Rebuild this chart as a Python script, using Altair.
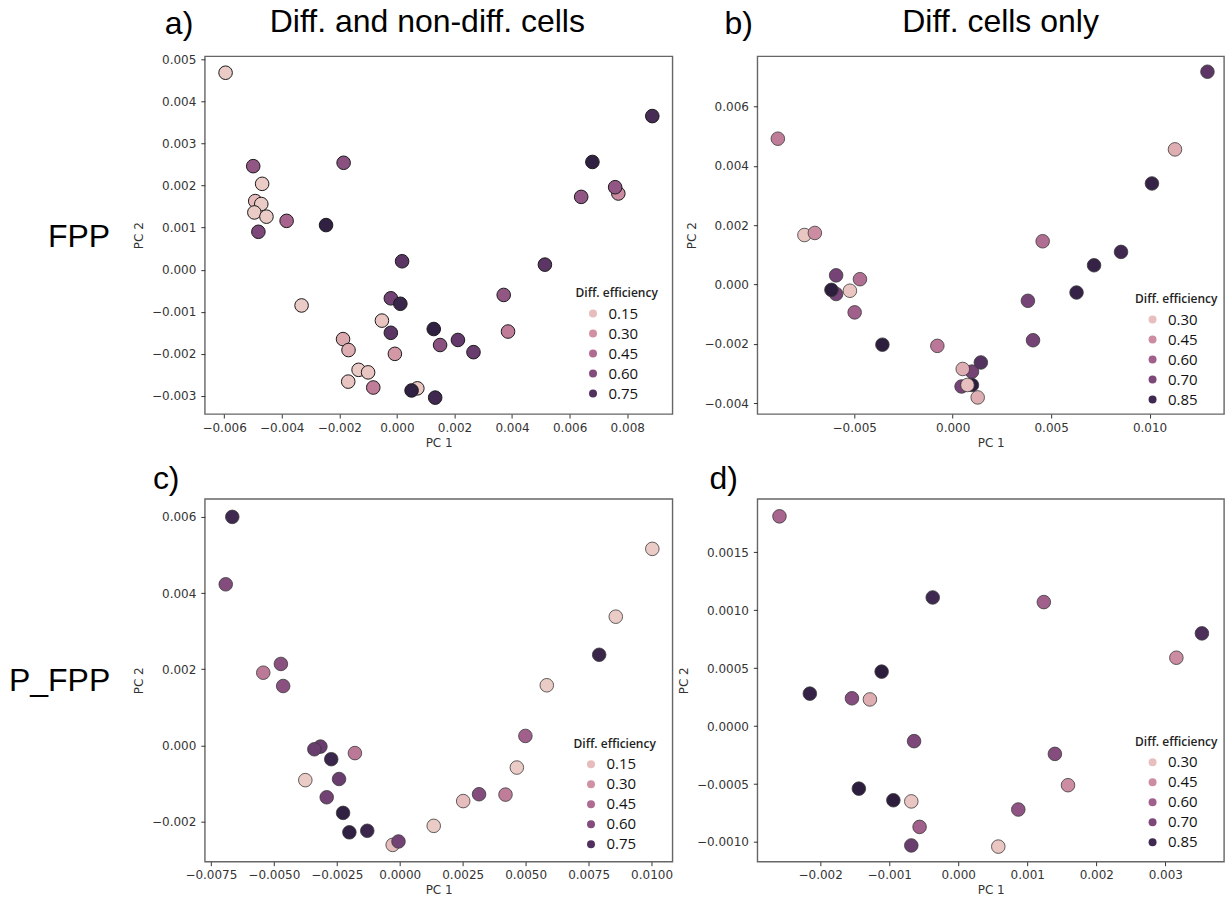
import altair as alt
import pandas as pd
import numpy as np

# ---------------- data ----------------
# panel a) FPP, diff. and non-diff. cells
a_x = [-0.00595, -0.00499, -0.00468, -0.00492, -0.00471, -0.00495, -0.00453, -0.00481, -0.00383, -0.00246,
       -0.00185, 0.00018, -0.00331, -0.00021, 0.00012, -0.00052, -0.00021, -0.00187, -0.00168, -0.00007,
       -0.00133, -0.00100, -0.00169, -0.00082, 0.00071, 0.00051, 0.00133, 0.00128, 0.00150, 0.00212,
       0.00266, 0.00371, 0.00386, 0.00514, 0.00640, 0.00679, 0.00769, 0.00758, 0.00887]
a_y = [0.00468, 0.00246, 0.00204, 0.00163, 0.00156, 0.00136, 0.00126, 0.00090, 0.00116, 0.00106,
       0.00254, 0.00020, -0.00085, -0.00068, -0.00081, -0.00121, -0.00150, -0.00165, -0.00191, -0.00200,
       -0.00238, -0.00244, -0.00266, -0.00280, -0.00282, -0.00287, -0.00304, -0.00141, -0.00179, -0.00167,
       -0.00196, -0.00060, -0.00147, 0.00012, 0.00173, 0.00256, 0.00181, 0.00196, 0.00365]
a_e = [0.10, 0.55, 0.10, 0.15, 0.10, 0.10, 0.10, 0.62, 0.48, 0.85,
       0.58, 0.72, 0.10, 0.65, 0.82, 0.12, 0.72, 0.22, 0.20, 0.28,
       0.10, 0.12, 0.12, 0.38, 0.12, 0.85, 0.80, 0.85, 0.58, 0.70,
       0.68, 0.55, 0.38, 0.72, 0.55, 0.85, 0.33, 0.55, 0.78]

# panel b) FPP, diff. cells only
b_x = [-0.00888, -0.00753, -0.00700, -0.00592, -0.00471, -0.00592, -0.00616, -0.00522, -0.00498, -0.00357,
       -0.00078, 0.00098, 0.00051, 0.00143, 0.00045, 0.00098, 0.00075, 0.00127, 0.00382, 0.00408,
       0.00457, 0.00629, 0.00718, 0.00855, 0.01012, 0.01129, 0.01294]
b_y = [0.00492, 0.00167, 0.00174, 0.00031, 0.00018, -0.00032, -0.00018, -0.00021, -0.00094, -0.00203,
       -0.00207, -0.00294, -0.00285, -0.00263, -0.00344, -0.00339, -0.00339, -0.00381, -0.00055, -0.00188,
       0.00146, -0.00027, 0.00065, 0.00110, 0.00341, 0.00456, 0.00718]
b_e = [0.50, 0.28, 0.45, 0.72, 0.55, 0.72, 0.90, 0.28, 0.60, 0.90,
       0.52, 0.72, 0.35, 0.80, 0.72, 0.90, 0.30, 0.35, 0.72, 0.72,
       0.55, 0.88, 0.88, 0.85, 0.88, 0.35, 0.78]

# panel c) P_FPP, diff. and non-diff. cells
c_x = [-0.00665, -0.00691, -0.00542, -0.00472, -0.00463, -0.00315, -0.00339, -0.00272, -0.00178, -0.00375,
       -0.00241, -0.00290, -0.00225, -0.00200, -0.00129, -0.00028, -0.00005, 0.00135, 0.00252, 0.00315,
       0.00420, 0.00465, 0.00499, 0.00584, 0.00792, 0.00858, 0.01003]
c_y = [0.00600, 0.00423, 0.00191, 0.00214, 0.00156, -0.00003, -0.00010, -0.00036, -0.00020, -0.00091,
       -0.00088, -0.00136, -0.00177, -0.00228, -0.00224, -0.00261, -0.00252, -0.00211, -0.00146, -0.00128,
       -0.00129, -0.00058, 0.00025, 0.00158, 0.00238, 0.00338, 0.00516]
c_e = [0.80, 0.60, 0.40, 0.58, 0.58, 0.68, 0.68, 0.82, 0.40, 0.10,
       0.68, 0.65, 0.85, 0.85, 0.82, 0.15, 0.65, 0.10, 0.15, 0.60,
       0.38, 0.10, 0.50, 0.10, 0.82, 0.10, 0.10]

# panel d) P_FPP, diff. cells only
d_x = [-0.00259, -0.00037, 0.00124, 0.00353, 0.00316, -0.00111, -0.00215, -0.00154, -0.00128, -0.00064,
       0.00140, 0.00159, -0.00144, -0.00094, -0.00068, 0.00087, -0.00056, -0.00068, 0.00058]
d_y = [0.00181, 0.00111, 0.00107, 0.00080, 0.00059, 0.00047, 0.00028, 0.00024, 0.00023, -0.00013,
       -0.00024, -0.00051, -0.00054, -0.00064, -0.00065, -0.00072, -0.00087, -0.00103, -0.00104]
d_e = [0.58, 0.85, 0.60, 0.82, 0.45, 0.90, 0.88, 0.68, 0.35, 0.70,
       0.68, 0.45, 0.90, 0.90, 0.28, 0.65, 0.60, 0.75, 0.28]

legend_a = [0.15, 0.30, 0.45, 0.60, 0.75]
legend_b = [0.30, 0.45, 0.60, 0.70, 0.85]

col_titles = ["Diff. and non-diff. cells", "Diff. cells only"]
row_titles = ["FPP", "P_FPP"]
letters = ["a)", "b)", "c)", "d)"]


# seaborn default cubehelix colormap (light=.85 -> dark=.15)
def cubehelix_hex(n=24, start=0.0, rot=0.4, gamma=1.0, hue=0.8, light=0.85, dark=0.15):
    out = []
    for x in np.linspace(light, dark, n):
        xg = x ** gamma
        a = hue * xg * (1 - xg) / 2
        phi = 2 * np.pi * (start / 3 + rot * x)
        r = xg + a * (-0.14861 * np.cos(phi) + 1.78277 * np.sin(phi))
        g = xg + a * (-0.29227 * np.cos(phi) - 0.90649 * np.sin(phi))
        b = xg + a * (1.97294 * np.cos(phi))
        rgb = [min(max(v, 0.0), 1.0) for v in (r, g, b)]
        out.append("#%02x%02x%02x" % tuple(int(round(v * 255)) for v in rgb))
    return out


CH = cubehelix_hex()
TITLE_FONT = "Liberation Sans"


def text_layer(txt, x, y, size=32):
    return alt.Chart(pd.DataFrame({"t": [txt]})).mark_text(
        font=TITLE_FONT, fontSize=size, align="left", baseline="alphabetic", color="#000"
    ).encode(text="t:N", x=alt.value(x), y=alt.value(y))


def panel(xs, ys, es, xdom, ydom, xticks, yticks, xfmt, yfmt, cdom, legvals, legx, legy,
          w, h, texts, stroke, sw):
    df = pd.DataFrame({"pc1": xs, "pc2": ys, "eff": es})
    pts = alt.Chart(df).mark_circle(size=185, opacity=1, stroke=stroke, strokeWidth=sw).encode(
        x=alt.X("pc1:Q", scale=alt.Scale(domain=xdom, nice=False, zero=False),
                axis=alt.Axis(values=xticks, format=xfmt, title="PC 1", labelFlush=False,
                              labelOverlap=False, titlePadding=4)),
        y=alt.Y("pc2:Q", scale=alt.Scale(domain=ydom, nice=False, zero=False),
                axis=alt.Axis(values=yticks, format=yfmt, title="PC 2", labelFlush=False,
                              labelOverlap=False, titlePadding=6, labelPadding=5)),
        color=alt.Color("eff:Q", scale=alt.Scale(domain=cdom, range=CH, interpolate="rgb"),
                        legend=alt.Legend(type="symbol", values=legvals, format=".2f",
                                          title="Diff. efficiency", orient="none",
                                          legendX=legx, legendY=legy, padding=0,
                                          titleFont="Open Sans", titleFontSize=12,
                                          titleFontWeight=600, titleColor="#222",
                                          titlePadding=6,
                                          labelFont="Open Sans", labelFontSize=15,
                                          labelColor="#111", labelOffset=8,
                                          symbolType="circle", symbolSize=64,
                                          symbolStrokeWidth=0, symbolOffset=10,
                                          symbolOpacity=1, rowPadding=4)),
    )
    layers = [pts] + [text_layer(*t) for t in texts]
    return alt.layer(*layers).properties(width=w, height=h)


W1, W2 = 468, 467
H1, H2 = 358, 363

pa = panel(a_x, a_y, a_e, [-0.00667, 0.00957], [-0.00343, 0.00507],
           [-0.006, -0.004, -0.002, 0.0, 0.002, 0.004, 0.006, 0.008],
           [-0.003, -0.002, -0.001, 0.0, 0.001, 0.002, 0.003, 0.004, 0.005],
           ".3f", ".3f", [0.08, 0.86], legend_a, 371, 232, W1, H1,
           [(letters[0], -40, -22), (col_titles[0], 65, -24), (row_titles[0], -157, 191)],
           "#1a1a1a", 1.0)

pb = panel(b_x, b_y, b_e, [-0.00992, 0.01378], [-0.00437, 0.0077],
           [-0.005, 0.0, 0.005, 0.010],
           [-0.004, -0.002, 0.0, 0.002, 0.004, 0.006],
           ".3f", ".3f", [0.25, 0.90], legend_b, 378, 238, W2, H1,
           [(letters[1], -33, -22), (col_titles[1], 145, -24)],
           "#3a3a3a", 0.8)

pc = panel(c_x, c_y, c_e, [-0.00774, 0.01083], [-0.00305, 0.00647],
           [-0.0075, -0.005, -0.0025, 0.0, 0.0025, 0.005, 0.0075, 0.010],
           [-0.002, 0.0, 0.002, 0.004, 0.006],
           ".4f", ".3f", [0.08, 0.86], legend_a, 369, 240, W1, H2,
           [(letters[2], -52, -10), (row_titles[1], -196, 192)],
           "#3a3a3a", 0.8)

pd_ = panel(d_x, d_y, d_e, [-0.00291, 0.00385], [-0.00117, 0.00196],
            [-0.002, -0.001, 0.0, 0.001, 0.002, 0.003],
            [-0.001, -0.0005, 0.0, 0.0005, 0.001, 0.0015],
            ".3f", ".4f", [0.25, 0.90], legend_b, 378, 238, W2, H2,
            [(letters[3], -48, -10)],
            "#3a3a3a", 0.8)

chart = alt.concat(pa, pb, pc, pd_, columns=2,
                   spacing=alt.RowColnumber(row=80, column=85),
                   bounds="flush", align="all").resolve_scale(
    x="independent", y="independent", color="independent"
).resolve_legend(color="independent").properties(
    padding={"left": 8, "top": 5, "right": 0, "bottom": 0}
).configure_view(
    stroke="#666666", strokeWidth=1.4
).configure_axis(
    labelFont="DejaVu Sans", labelFontSize=12, labelColor="#333",
    titleFont="DejaVu Sans", titleFontSize=12, titleFontWeight="normal", titleColor="#333",
    domain=False, grid=False, tickSize=4, tickColor="#333", tickWidth=1,
    labelPadding=4, titlePadding=5
)

chart.save("out.html", embed_options={"renderer": "svg", "actions": False})
